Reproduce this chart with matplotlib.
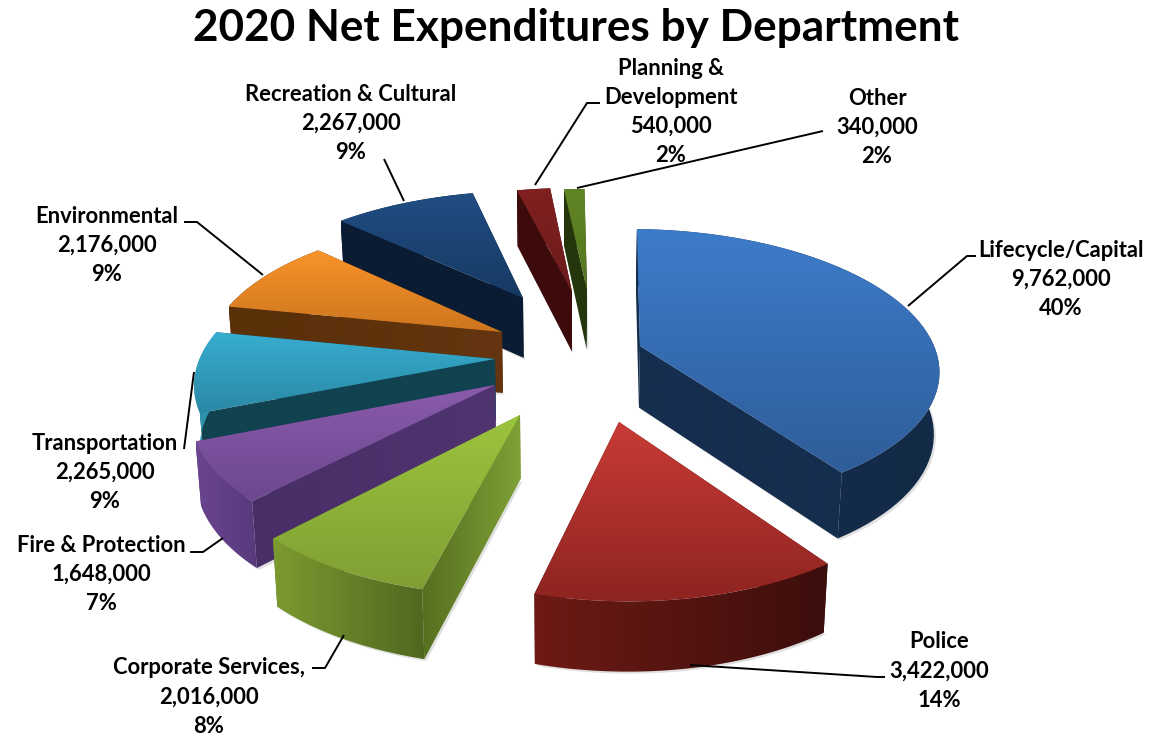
import numpy as np
import matplotlib
matplotlib.use("Agg")
import matplotlib.pyplot as plt
from matplotlib.colors import to_rgb
from matplotlib.patches import Polygon

plt.rcParams['font.family'] = ['Lato', 'DejaVu Sans']

departments = ["Lifecycle/Capital", "Police", "Corporate Services,", "Fire & Protection",
               "Transportation", "Environmental", "Recreation & Cultural",
               "Planning &\nDevelopment", "Other"]
amounts = [9762000, 3422000, 2016000, 1648000, 2265000, 2176000, 2267000, 540000, 340000]
percents = ["40%", "14%", "8%", "7%", "9%", "9%", "9%", "2%", "2%"]

# face colours: top start/end, rim left/right, wall left/right
top_colors = [("#3d7cca", "#2f5d99"), ("#c93b36", "#8e2420"), ("#9cc43d", "#7f9f34"),
              ("#8a5bad", "#6c488e"), ("#37add0", "#2b88a5"), ("#f89329", "#cd761f"),
              ("#204d83", "#173a62"), ("#802020", "#6d1b1b"), ("#608524", "#557520")]
rim_colors = [("#152e4e", "#132a47"), ("#6e1a15", "#3c0e0c"), ("#7b9b30", "#4f6820"),
              ("#6b4590", "#573a7c"), ("#2f93ad", "#2f93ad"), ("#5a3009", "#5a3009"),
              ("#0a1c33", "#0a1c33"), ("#3d0b0b", "#3d0b0b"), ("#24360c", "#24360c")]
wall_colors = [("#152e4e", "#152e4e"), ("#3c0e0c", "#3c0e0c"), ("#55701f", "#7ea037"),
               ("#482e66", "#4f3570"), ("#10424f", "#10434f"), ("#5a3009", "#643510"),
               ("#0a1c33", "#0a1c33"), ("#3d0b0b", "#3d0b0b"), ("#24360c", "#24360c")]

# where each exploded slice has its point on the page, and the label anchors
apex_px = [(640, 346), (619, 422), (520, 415), (495, 385), (495, 359),
           (502, 332), (523, 298), (572, 292), (587, 290)]
radius_scale = [1.03, 0.98, 1.0, 1.005, 1.02, 1.03, 1.05, 1.03, 1.0]
turn_deg = [1.5, 1, 0, 0, 0, 0, 0, 0, 0]
label_px = [(1061, 250), (939, 642), (209, 668), (101, 545), (105, 443),
            (107, 216), (351, 94), (671, 68), (877, 98)]
leaders = [[(908, 306), (967, 256), (976, 256)],
           [(690, 665), (877, 677), (885, 677)],
           [(344, 635), (325, 668), (312, 668)],
           [(223, 538), (203, 552), (190, 552)],
           [(194, 372), (184, 449)],
           [(263, 275), (197, 222), (184, 222)],
           [(404, 201), (384, 159)],
           [(535, 185), (587, 103), (600, 103)],
           [(577, 188), (823, 131)]]
draw_order = [8, 7, 6, 5, 4, 0, 3, 2, 1]

cx, cy = 566, 360
rx, ry = 290, 135
k = 0.15


def project(X, Y):
    s = 1 / (1 + k * Y)
    return cx + rx * X * s, cy - ry * Y * s, s


def from_page(px, py):
    t = (cy - py) / ry
    Y = t / (1 - k * t)
    s = 1 / (1 + k * Y)
    return (px - cx) / (rx * s), Y


def drop(x, y, s):
    # bottom edge of the pie: lower by the depth, slightly pulled to the middle
    return x + (cx - x) * 0.015, y + 31 * (1 + s)


def gradient_fill(ax, pts, c1, c2, vertical, z):
    pts = np.array(pts)
    x0, x1 = pts[:, 0].min(), pts[:, 0].max()
    y0, y1 = pts[:, 1].min(), pts[:, 1].max()
    t = np.linspace(0, 1, 64)[:, None]
    ramp = (1 - t) * np.array(to_rgb(c1)) + t * np.array(to_rgb(c2))
    img = ramp[:, None, :] if vertical else ramp[None, :, :]
    im = ax.imshow(img, extent=(x0, x1, y1, y0), origin='upper', aspect='auto',
                   zorder=z, interpolation='bilinear')
    patch = Polygon(pts, closed=True, transform=ax.transData, fc='none', ec='none')
    ax.add_patch(patch)
    im.set_clip_path(patch)


fig = plt.figure(figsize=(11.49, 7.35), dpi=100)
ax = fig.add_axes([0, 0, 1, 1])

edges = np.cumsum([0] + amounts) / sum(amounts) * 2 * np.pi
z = 2
for i in draw_order:
    ox, oy = from_page(*apex_px[i])
    turn = np.radians(turn_deg[i])
    th = np.linspace(edges[i] + turn, edges[i + 1] + turn, 60)
    r = radius_scale[i]
    ax_x, ax_y, ax_s = project(ox, oy)
    arc = [project(ox + r * np.sin(a), oy + r * np.cos(a)) for a in th]
    arc_top = [(p[0], p[1]) for p in arc]
    arc_low = [drop(*p) for p in arc]
    ap_low = drop(ax_x, ax_y, ax_s)

    # soft shadow under the slice
    shadow = [(x + 2, y + 2) for x, y in arc_low] + [(ap_low[0] + 2, ap_low[1] + 2)]
    ax.add_patch(Polygon(shadow, closed=True, fc='#999999', ec='none', alpha=0.3, zorder=z))
    z += 1

    for top_pt, low_pt in [(arc_top[-1], arc_low[-1]), (arc_top[0], arc_low[0])]:
        wall = [(ax_x, ax_y), top_pt, low_pt, ap_low]
        c1, c2 = wall_colors[i]
        gradient_fill(ax, wall, c1, c2, False, z)
        z += 1

    c1, c2 = rim_colors[i]
    gradient_fill(ax, arc_top + arc_low[::-1], c1, c2, False, z)
    z += 1
    c1, c2 = top_colors[i]
    gradient_fill(ax, [(ax_x, ax_y)] + arc_top, c1, c2, True, z)
    z += 1

for line in leaders:
    xs, ys = zip(*line)
    ax.plot(xs, ys, color='black', lw=1.4, zorder=z, solid_capstyle='butt')

line_gap = 29.3
for name, amount, pct, (lx, ly) in zip(departments, amounts, percents, label_px):
    lines = name.split("\n") + [f"{amount:,}", pct]
    for j, txt in enumerate(lines):
        ax.text(lx, ly + j * line_gap, txt, ha='center', va='center', fontsize=15.8,
                fontweight='bold', color='black', zorder=z + 1)

ax.text(576, 28, "2020 Net Expenditures by Department", ha='center', va='center',
        fontsize=31.8, fontweight='bold', color='black', zorder=z + 1)

ax.set_xlim(0, 1149)
ax.set_ylim(735, 0)
ax.axis('off')
fig.savefig("out.png", dpi=100)
